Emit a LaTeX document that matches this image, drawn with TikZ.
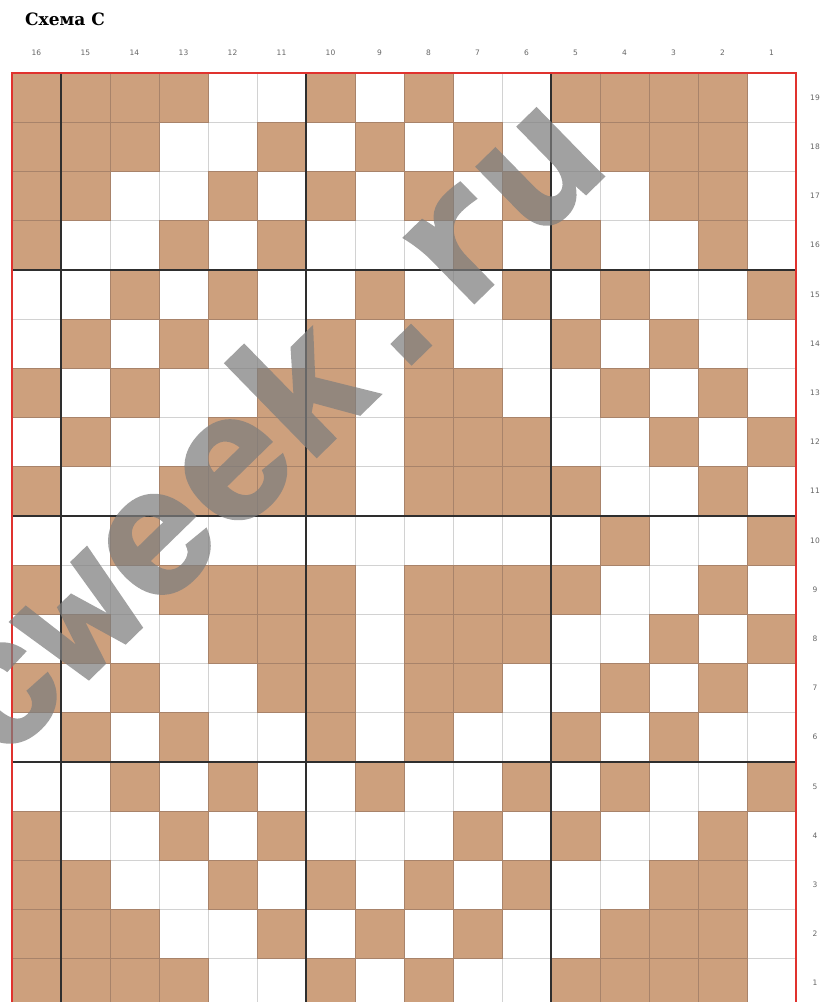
\documentclass[tikz,border=0pt]{standalone}
\usepackage{fontspec}
\setmainfont{DejaVu Sans}
\newfontfamily\titlefont{DejaVu Serif}
\newfontfamily\wmfont[FakeBold=2.2]{Liberation Mono}
\definecolor{cellbrown}{HTML}{CDA07D}
\definecolor{celledge}{HTML}{A8836A}
\definecolor{gridgrey}{HTML}{D2D2D2}
\definecolor{thickline}{HTML}{2E2E2E}
\definecolor{borderred}{HTML}{E0322E}
\definecolor{labelgrey}{HTML}{666666}
\definecolor{wmgrey}{HTML}{7E7E7E}
\tikzset{
  thingrid/.style={draw=gridgrey, line width=0.9pt},
  browncell/.style={fill=cellbrown, draw=celledge, line width=0.7pt},
  thickgrid/.style={draw=thickline, line width=1.4pt},
  redframe/.style={draw=borderred, line width=2pt},
  numlabel/.style={text=labelgrey, font=\fontsize{7.5}{7.5}\selectfont, inner sep=0pt},
  watermark/.style={text=wmgrey, inner sep=0pt,
    font=\wmfont\bfseries\fontsize{178}{178}\selectfont}
}
\begin{document}
\begin{tikzpicture}[x=1pt,y=-1pt]
\useasboundingbox (0,0) rectangle (826,1002);
\fill[white] (0,0) rectangle (826,1002);
\def\X{12}\def\Y{73}\def\W{49}\def\H{49.2}
% thin grid
\foreach \i in {0,...,16} \draw[thingrid] ({\X+\i*\W},\Y) -- ({\X+\i*\W},{\Y+19*\H});
\foreach \j in {0,...,19} \draw[thingrid] (\X,{\Y+\j*\H}) -- ({\X+16*\W},{\Y+\j*\H});
% brown cells (left = column 16, right = column 1)
\foreach \r/\pat in {
  19/{1,1,1,1,0,0,1,0,1,0,0,1,1,1,1,0},
  18/{1,1,1,0,0,1,0,1,0,1,0,0,1,1,1,0},
  17/{1,1,0,0,1,0,1,0,1,0,1,0,0,1,1,0},
  16/{1,0,0,1,0,1,0,0,0,1,0,1,0,0,1,0},
  15/{0,0,1,0,1,0,0,1,0,0,1,0,1,0,0,1},
  14/{0,1,0,1,0,0,1,0,1,0,0,1,0,1,0,0},
  13/{1,0,1,0,0,1,1,0,1,1,0,0,1,0,1,0},
  12/{0,1,0,0,1,1,1,0,1,1,1,0,0,1,0,1},
  11/{1,0,0,1,1,1,1,0,1,1,1,1,0,0,1,0},
  10/{0,0,1,0,0,0,0,0,0,0,0,0,1,0,0,1},
  9/{1,0,0,1,1,1,1,0,1,1,1,1,0,0,1,0},
  8/{0,1,0,0,1,1,1,0,1,1,1,0,0,1,0,1},
  7/{1,0,1,0,0,1,1,0,1,1,0,0,1,0,1,0},
  6/{0,1,0,1,0,0,1,0,1,0,0,1,0,1,0,0},
  5/{0,0,1,0,1,0,0,1,0,0,1,0,1,0,0,1},
  4/{1,0,0,1,0,1,0,0,0,1,0,1,0,0,1,0},
  3/{1,1,0,0,1,0,1,0,1,0,1,0,0,1,1,0},
  2/{1,1,1,0,0,1,0,1,0,1,0,0,1,1,1,0},
  1/{1,1,1,1,0,0,1,0,1,0,0,1,1,1,1,0}} {
  \foreach \v [count=\c] in \pat {
    \ifnum\v=1
      \path[browncell] ({\X+(\c-1)*\W},{\Y+(19-\r)*\H}) rectangle +(\W,\H);
    \fi
  }
}
% thick lines every five stitches / rows
\foreach \i in {1,6,11} \draw[thickgrid] ({\X+\i*\W},\Y) -- ({\X+\i*\W},{\Y+19*\H});
\foreach \j in {4,9,14} \draw[thickgrid] (\X,{\Y+\j*\H}) -- ({\X+16*\W},{\Y+\j*\H});
% red frame
\draw[redframe] (\X,\Y) rectangle ({\X+16*\W},{\Y+19*\H});
% column numbers
\foreach \n in {1,...,16} \node[numlabel] (col\n) at ({\X+(16-\n+0.5)*\W},53) {\n};
% row numbers
\foreach \r in {1,...,19} \node[numlabel] (row\r) at (815,{\Y+(19-\r+0.5)*\H}) {\r};
% title
\node[anchor=base west, inner sep=0pt, font=\titlefont\bfseries\fontsize{17}{17}\selectfont] (title) at (25,25) {Схема С};
% watermark
\begin{scope}[transparency group, opacity=0.72]
\node[watermark, rotate=44.3, anchor=base] (wm) at (306,466) {cweek.ru};
\end{scope}
\end{tikzpicture}
\end{document}
